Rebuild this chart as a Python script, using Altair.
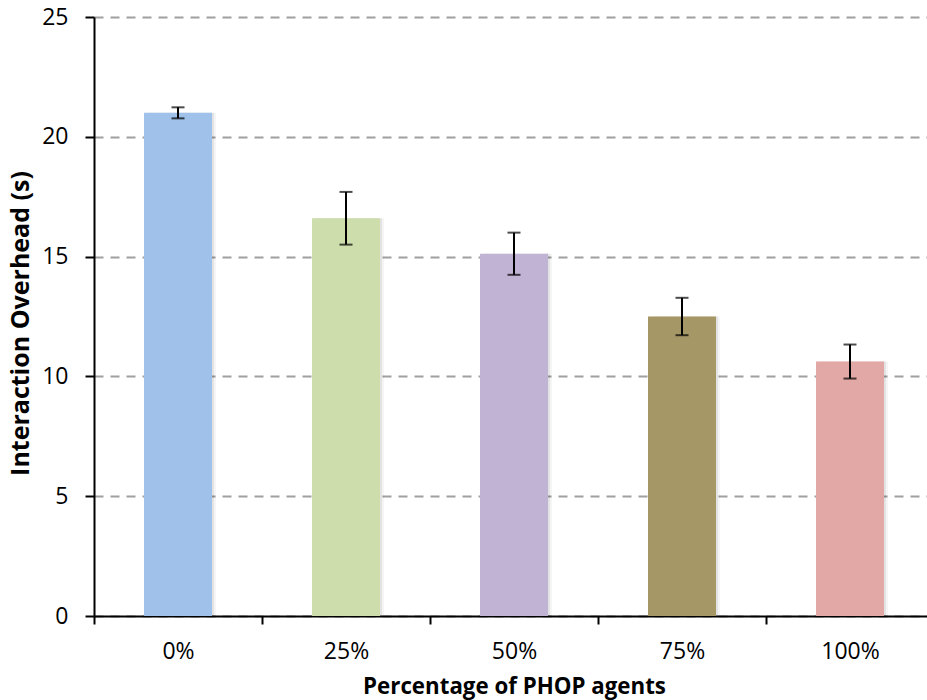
import altair as alt
import pandas as pd

# Mean interaction overhead per share of PHOP agents, with error margins
categories = ["0%", "25%", "50%", "75%", "100%"]
means = [21.0, 16.6, 15.12, 12.5, 10.62]
errors = [0.23, 1.1, 0.88, 0.78, 0.71]
bar_colors = ["#A0C1E9", "#CDDDAB", "#C1B3D4", "#A59766", "#E2A8A6"]
y_ticks = [0, 5, 10, 15, 20, 25]

df = pd.DataFrame({"cat": categories, "mean": means, "err": errors})
df["lo"] = df["mean"] - df["err"]
df["hi"] = df["mean"] + df["err"]

FONT = "Open Sans"

x_enc = alt.X(
    "cat:N",
    sort=categories,
    scale=alt.Scale(domain=categories, range=[0, 840], paddingInner=0, paddingOuter=0),
    axis=alt.Axis(
        title="Percentage of PHOP agents",
        titleFont=FONT, titleFontSize=22.3, titleFontWeight="bold", titleColor="#000",
        titleX=420, titleY=77, titleBaseline="alphabetic", titleAlign="center",
        labelFont=FONT, labelFontSize=23, labelColor="#000", labelAngle=0,
        labelPadding=16,
        tickBand="extent", tickSize=8, tickWidth=2, tickColor="#000",
        domainColor="#000", domainWidth=2, grid=False,
    ),
)

y_scale = alt.Scale(domain=[0, 25], nice=False)
y_axis = alt.Axis(
    title="Interaction Overhead (s)",
    titleFont=FONT, titleFontSize=25, titleFontWeight="bold", titleColor="#000",
    titleX=-66, titleY=306, titleBaseline="alphabetic", titleAlign="center",
    labelFont=FONT, labelFontSize=23, labelColor="#000", labelPadding=17,
    values=y_ticks, tickSize=9, tickWidth=2, tickColor="#000",
    domainColor="#000", domainWidth=2,
    grid=True, gridColor="#A0A0A0", gridWidth=2, gridDash=[9, 7],
)

base = alt.Chart(df)

shadow1 = base.mark_bar(size=68, xOffset=2, color="#000", opacity=0.07).encode(
    x=x_enc, y=alt.Y("mean:Q", scale=y_scale, axis=y_axis)
)
shadow2 = base.mark_bar(size=68, xOffset=4, color="#000", opacity=0.04).encode(
    x=x_enc, y=alt.Y("mean:Q", scale=y_scale)
)

bars = base.mark_bar(size=68).encode(
    x=x_enc,
    y=alt.Y("mean:Q", scale=y_scale),
    color=alt.Color("cat:N", scale=alt.Scale(domain=categories, range=bar_colors), legend=None),
)

whisker = base.mark_rule(color="#000", strokeWidth=2).encode(
    x=x_enc, y=alt.Y("lo:Q", scale=y_scale), y2="hi:Q"
)
cap_lo = base.mark_tick(color="#000", size=13, thickness=2, orient="horizontal").encode(
    x=x_enc, y=alt.Y("lo:Q", scale=y_scale)
)
cap_hi = base.mark_tick(color="#000", size=13, thickness=2, orient="horizontal").encode(
    x=x_enc, y=alt.Y("hi:Q", scale=y_scale)
)

chart = (
    alt.layer(shadow1, shadow2, bars, whisker, cap_lo, cap_hi)
    .properties(
        width=833,
        height=599,
        autosize=alt.AutoSizeParams(type="none"),
        padding={"left": 94, "top": 17, "right": 0, "bottom": 84},
        background="white",
    )
    .configure_view(stroke=None)
)

chart.save("out.html", embed_options={"renderer": "svg", "actions": False})
